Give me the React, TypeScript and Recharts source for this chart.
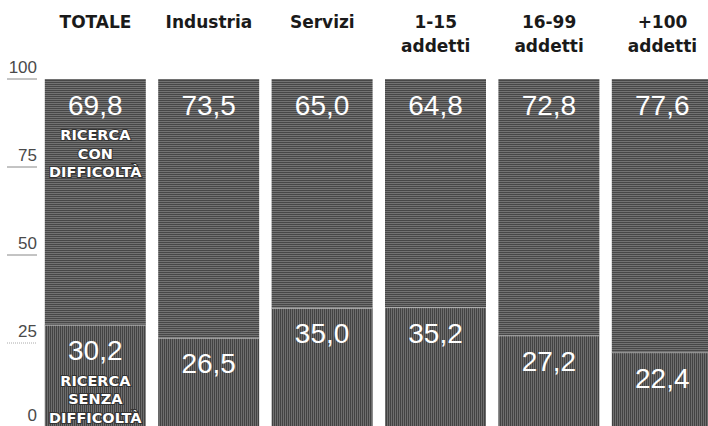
import React from 'react';
import { BarChart, Bar, XAxis, YAxis, LabelList } from 'recharts';

const categories = ['TOTALE', 'Industria', 'Servizi', '1-15 addetti', '16-99 addetti', '+100 addetti'];
const headerLines: string[][] = [['TOTALE'], ['Industria'], ['Servizi'], ['1-15', 'addetti'], ['16-99', 'addetti'], ['+100', 'addetti']];
const senzaDifficolta = [30.2, 26.5, 35.0, 35.2, 27.2, 22.4];
const conDifficolta = [69.8, 73.5, 65.0, 64.8, 72.8, 77.6];
const yTicks = [0, 25, 50, 75, 100];
const conLabel = ['RICERCA', 'CON', 'DIFFICOLTÀ'];
const senzaLabel = ['RICERCA', 'SENZA', 'DIFFICOLTÀ'];

const data = categories.map((name, i) => ({
  name,
  senza: senzaDifficolta[i],
  con: conDifficolta[i],
}));

const fmt = (v: number) => v.toFixed(1).replace('.', ',');

const HeaderTick = (props: any) => {
  const { x, index } = props;
  const lines = headerLines[index] || [String(props.payload?.value)];
  return (
    <g>
      {lines.map((l, k) => (
        <text key={k} x={x} y={28 + k * 24} textAnchor="middle" fontFamily="DejaVu Sans" fontWeight={700} fontSize={17} fill="#1a1a1a">
          {l}
        </text>
      ))}
    </g>
  );
};

const YTick = (props: any) => {
  const { y, payload } = props;
  const v = payload.value;
  const ty = v === 0 ? Math.min(y - 6, 421) : y - 6;
  return (
    <g>
      <line x1={7} x2={37} y1={y} y2={y} stroke={v === 25 ? '#aaa' : '#888'} strokeWidth={1} strokeDasharray={v === 25 ? '1 1' : undefined} />
      <text x={37} y={ty} textAnchor="end" fontFamily="Liberation Sans" fontSize={17} fill="#4a4a4a">
        {v}
      </text>
    </g>
  );
};

const makeLabel = (words: string[]) => (props: any) => {
  const { x, y, width, value, index } = props;
  const cx = x + width / 2;
  const cy = y + 26;
  return (
    <g>
      <text x={cx} y={cy} textAnchor="middle" dominantBaseline="central" fontFamily="Liberation Sans" fontSize={28} fill="#fff">
        {fmt(Number(value))}
      </text>
      {index === 0 &&
        words.map((w, k) => (
          <text
            key={k}
            x={cx}
            y={cy + 30 + k * 18.5}
            textAnchor="middle"
            dominantBaseline="central"
            fontFamily="DejaVu Sans"
            fontWeight={700}
            fontSize={14.5}
            fill="#fff"
            stroke="#333"
            strokeWidth={2}
            paintOrder="stroke"
          >
            {w}
          </text>
        ))}
    </g>
  );
};

const BottomShape = (props: any) => {
  const { x, y, width, height } = props;
  return (
    <g>
      <rect x={x} y={y} width={width} height={height} fill="url(#patBottom)" />
      <line x1={x} x2={x + width} y1={y + 0.5} y2={y + 0.5} stroke="#b5b5b5" strokeWidth={1} />
    </g>
  );
};

export default function App() {
  return (
    <div style={{ position: 'absolute', left: 0, top: 0, width: 708, height: 426, overflow: 'hidden', background: '#fff' }}>
      <BarChart width={720} height={431} data={data} margin={{ top: 78, right: 0.8, left: 37.8, bottom: 0 }}>
        <defs>
          <pattern id="patTop" width={2} height={2} patternUnits="userSpaceOnUse">
            <rect x={0} y={0} width={2} height={2} fill="#727272" />
            <rect x={0} y={0} width={2} height={1} fill="#474747" />
          </pattern>
          <pattern id="patBottom" width={2} height={2} patternUnits="userSpaceOnUse">
            <rect x={0} y={0} width={2} height={2} fill="#6e6e6e" />
            <rect x={0} y={0} width={1} height={2} fill="#434343" />
          </pattern>
        </defs>
        <XAxis dataKey="name" orientation="top" height={1} axisLine={false} tickLine={false} interval={0} tick={<HeaderTick />} />
        <YAxis domain={[0, 100]} ticks={yTicks} width={1} axisLine={false} tickLine={false} tick={<YTick />} interval={0} />
        <Bar dataKey="senza" stackId="a" barSize={101} fill="url(#patBottom)" shape={<BottomShape />} isAnimationActive={false}>
          <LabelList dataKey="senza" content={makeLabel(senzaLabel)} />
        </Bar>
        <Bar dataKey="con" stackId="a" barSize={101} fill="url(#patTop)" isAnimationActive={false}>
          <LabelList dataKey="con" content={makeLabel(conLabel)} />
        </Bar>
      </BarChart>
    </div>
  );
}
